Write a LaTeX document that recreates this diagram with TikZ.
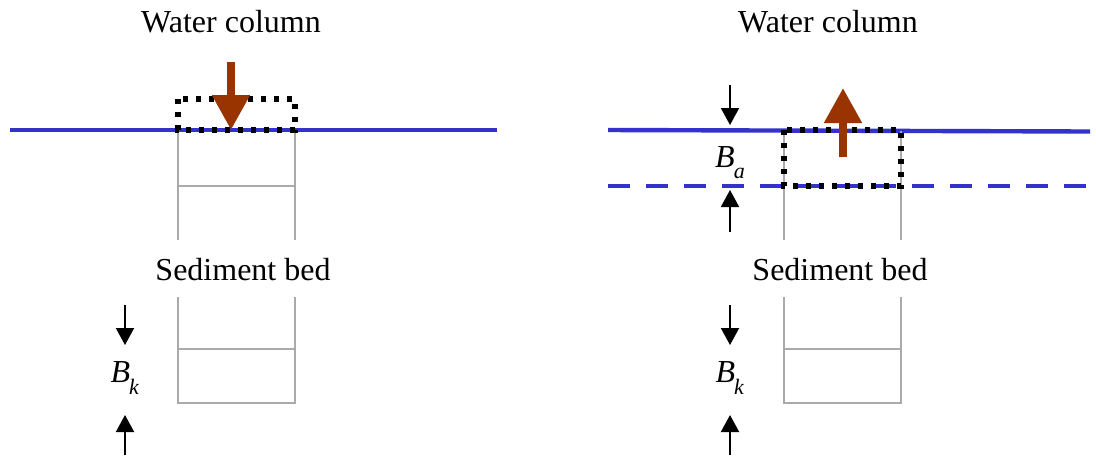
\documentclass[tikz,border=0pt]{standalone}
\usepackage{fontspec}
\setmainfont{Liberation Serif}
\usepackage{tikz}
\usetikzlibrary{arrows.meta}
\definecolor{surfblue}{HTML}{3333CC}
\definecolor{fluxbrown}{HTML}{993300}
\definecolor{wallgray}{HTML}{AAAAAA}
\newcommand{\bedsym}[1]{\textit{B}\kern-0.5pt\raisebox{-0.35em}{\fontsize{11}{12}\selectfont\textit{#1}}}
\tikzset{
	lbl/.style={font=\fontsize{16}{19}\selectfont,inner sep=0pt},
	surf/.style={draw=surfblue,line width=2.2pt},
	surfdash/.style={draw=surfblue,line width=2.2pt,dash pattern=on 11pt off 8pt},
	wall/.style={draw=wallgray,line width=1.1pt},
	dotbox/.style={draw=black,line width=2.6pt,dash pattern=on 2.6pt off 3.9pt},
	flux/.style={draw=fluxbrown,line width=4pt,-{Triangle[width=18pt,length=17.5pt]},fluxbrown},
	dimarrow/.style={draw=black,line width=1pt,-{Triangle[width=9pt,length=8.5pt]}}
}

\begin{document}
\begin{tikzpicture}[x=0.5pt,y=-0.5pt]
	\useasboundingbox (0,0) rectangle (1096,457);
	% left panel: deposition
	\node[lbl] (wcl) at (231,22) {Water column};
	\node[lbl] (sbl) at (243,270) {Sediment bed};
	\draw[surf] (10,130)--(497,130);
	\draw[wall] (178,131)--(178,240) (295,131)--(295,240) (178,186)--(295,186);
	\draw[wall] (178,297)--(178,403)--(295,403)--(295,297) (178,349)--(295,349);
	\draw[dotbox] (178,99) rectangle (295,130);
	\coordinate (dtop) at (231,62);
	\coordinate (dbot) at (231,130);
	\draw[flux] (dtop)--(dbot);
	\node[lbl] (bkl) at (125,378) {\bedsym{k}};
	\coordinate (bkla) at (125,305);
	\coordinate (bklb) at (125,345);
	\coordinate (bklc) at (125,455);
	\coordinate (bkld) at (125,415);
	\draw[dimarrow] (bkla)--(bklb);
	\draw[dimarrow] (bklc)--(bkld);
	% right panel: erosion
	\node[lbl] (wcr) at (828,22) {Water column};
	\node[lbl] (sbr) at (840,270) {Sediment bed};
	\draw[surf] (608,130)--(1090,131.5);
	\draw[surfdash] (608,186)--(1090,186);
	\draw[wall] (784,131)--(784,240) (901,131)--(901,240);
	\draw[wall] (784,297)--(784,403)--(901,403)--(901,297) (784,349)--(901,349);
	\draw[dotbox] (784,130) rectangle (901,186);
	\coordinate (ebot) at (843,157);
	\coordinate (etop) at (843,88);
	\draw[flux] (ebot)--(etop);
	\node[lbl] (bar) at (730,163) {\bedsym{a}};
	\coordinate (bara) at (730,85);
	\coordinate (barb) at (730,125);
	\coordinate (barc) at (730,232);
	\coordinate (bard) at (730,190);
	\draw[dimarrow] (bara)--(barb);
	\draw[dimarrow] (barc)--(bard);
	\node[lbl] (bkr) at (730,378) {\bedsym{k}};
	\coordinate (bkra) at (730,305);
	\coordinate (bkrb) at (730,345);
	\coordinate (bkrc) at (730,455);
	\coordinate (bkrd) at (730,415);
	\draw[dimarrow] (bkra)--(bkrb);
	\draw[dimarrow] (bkrc)--(bkrd);
\end{tikzpicture}
\end{document}
